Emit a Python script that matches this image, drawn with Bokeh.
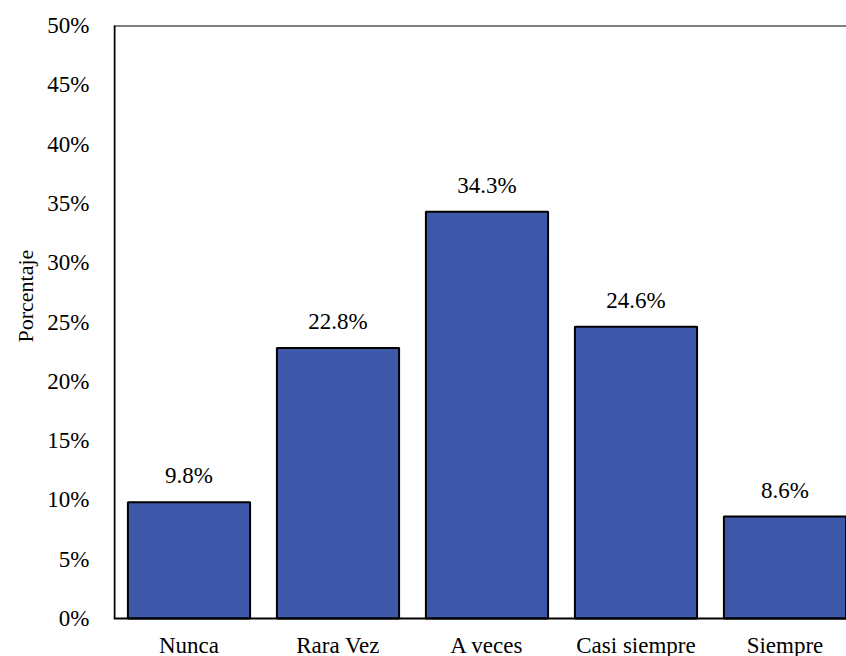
from bokeh.plotting import figure
from bokeh.models import ColumnDataSource, FixedTicker, Range1d, Span, Title
from bokeh.core.properties import value
from bokeh.embed import file_html
from bokeh.resources import INLINE

categories = ["Nunca", "Rara Vez", "A veces", "Casi siempre", "Siempre"]
percentages = [9.8, 22.8, 34.3, 24.6, 8.6]
y_ticks = [0, 5, 10, 15, 20, 25, 30, 35, 40, 45, 50]
y_title = "Porcentaje"

FONT = "Liberation Serif"
PX_PER_CAT = 149.0   # horizontal pixels per category
PX_PER_PCT = 593.0 / 50  # vertical pixels per percent
X0 = -0.5 - 1 / PX_PER_CAT
Y0 = -38 / PX_PER_PCT  # room below the baseline for the category names
LABEL_Y = -14 / PX_PER_PCT

xs = list(range(len(categories)))
src = ColumnDataSource(dict(
    x=xs,
    top=percentages,
    label=[f"{v:.1f}%" for v in percentages],
))
cat_src = ColumnDataSource(dict(x=xs, y=[LABEL_Y] * len(xs), name=categories))

p = figure(width=846, height=656, output_backend="svg", toolbar_location=None,
           x_range=Range1d(X0, X0 + 733 / PX_PER_CAT), y_range=Range1d(Y0, y_ticks[-1]),
           min_border_left=113, min_border_right=0, min_border_top=25, min_border_bottom=0)
p.background_fill_color = "white"
p.border_fill_color = "white"
p.outline_line_color = None
p.grid.visible = False
p.xaxis.visible = False

p.vbar(x="x", top="top", width=0.82, bottom=0, source=src,
       fill_color="#3E58A9", line_color="black", line_width=2)
p.text(x="x", y="top", text="label", source=src, y_offset=-14,
       text_align="center", text_baseline="bottom",
       text_font=value(FONT), text_font_size="23px", text_color="black")
p.text(x="x", y="y", text="name", source=cat_src,
       text_align="center", text_baseline="top",
       text_font=value(FONT), text_font_size="23px", text_color="black")

# frame lines: baseline, top border, left axis line
p.add_layout(Span(location=0, dimension="width", line_color="black", line_width=2))
p.add_layout(Span(location=y_ticks[-1], dimension="width", line_color="black", line_width=2))
p.segment(x0=[-0.5], y0=[y_ticks[0]], x1=[-0.5], y1=[y_ticks[-1]],
          line_color="black", line_width=2)

p.yaxis.ticker = FixedTicker(ticks=y_ticks)
p.yaxis.major_label_overrides = {t: f"{t}%" for t in y_ticks}
p.yaxis.major_tick_line_color = None
p.yaxis.minor_tick_line_color = None
p.yaxis.axis_line_color = None
p.yaxis.major_label_standoff = 18
p.yaxis.major_label_text_font = FONT
p.yaxis.major_label_text_font_size = "23px"
p.yaxis.major_label_text_color = "black"

p.add_layout(Title(text=y_title, align="left", offset=314, standoff=14,
                   text_font=FONT, text_font_size="22px", text_font_style="normal",
                   text_color="black"), "left")

open("out.html", "w").write(file_html(p, INLINE))
